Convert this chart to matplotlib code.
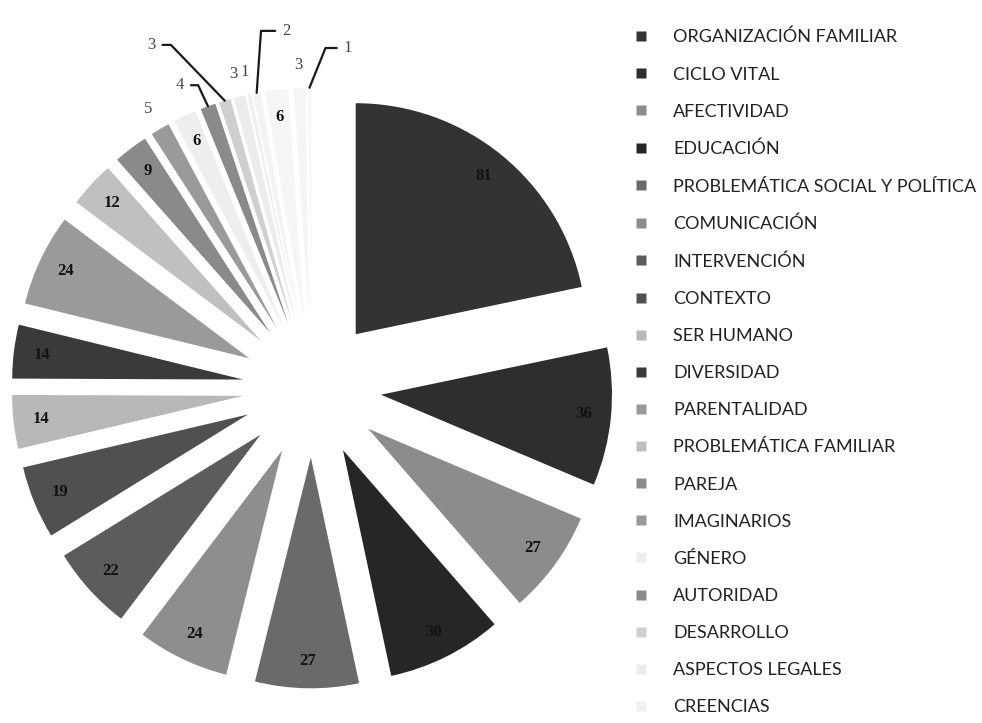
import matplotlib
matplotlib.use("Agg")
import matplotlib.pyplot as plt
from matplotlib.lines import Line2D
import numpy as np

# slices, clockwise from the top
values = [81, 36, 27, 30, 27, 24, 22, 19, 14, 14, 24, 12, 9, 5, 6, 4, 3, 3, 1, 2, 6, 3, 1]
categories = [
    "ORGANIZACIÓN FAMILIAR", "CICLO VITAL", "AFECTIVIDAD", "EDUCACIÓN",
    "PROBLEMÁTICA SOCIAL Y POLÍTICA", "COMUNICACIÓN", "INTERVENCIÓN", "CONTEXTO",
    "SER HUMANO", "DIVERSIDAD", "PARENTALIDAD", "PROBLEMÁTICA FAMILIAR", "PAREJA",
    "IMAGINARIOS", "GÉNERO", "AUTORIDAD", "DESARROLLO", "ASPECTOS LEGALES", "CREENCIAS",
]
colors = [
    "#333333", "#2e2e2e", "#8c8c8c", "#262626", "#6a6a6a", "#8e8e8e", "#5c5c5c",
    "#505050", "#b8b8b8", "#3a3a3a", "#9a9a9a", "#c0c0c0", "#8a8a8a", "#9a9a9a",
    "#eeeeee", "#8a8a8a", "#cfcfcf", "#ececec", "#f0f0f0", "#f3f3f3", "#f6f6f6",
    "#f5f5f5", "#f8f8f8",
]

# labels placed outside the pie (no leader line)
outside = [13, 17, 18, 21]
# labels with a leader: index -> (radius, angle shift in deg, leader angle)
leaders = {15: (1.43, 3.3, 115), 16: (1.64, 8.2, 134), 19: (1.55, -6.5, 86), 22: (1.48, -6.5, 68)}

R_PX = 231.0  # pie radius in pixels
CX, CY = 312.0, 388.0  # pie centre in pixels
W, H = 982, 723

fig = plt.figure(figsize=(W / 100, H / 100), dpi=100)
ax = fig.add_axes([0, 0, 1, 1])

wedges, _ = ax.pie(values, colors=colors, startangle=90, counterclock=False,
                   explode=[0.3] * len(values), radius=1,
                   wedgeprops=dict(linewidth=0))
ax.set_xlim(-CX / R_PX, (W - CX) / R_PX)
ax.set_ylim(-(H - CY) / R_PX, CY / R_PX)

for i, w in enumerate(wedges):
    mid = np.deg2rad((w.theta1 + w.theta2) / 2)
    cx, cy = w.center
    d = np.array([np.cos(mid), np.sin(mid)])
    val = str(values[i])
    if i in leaders:
        r, shift, angb = leaders[i]
        a = mid + np.deg2rad(shift)
        tip = (cx + d[0], cy + d[1])
        txt = (r * np.cos(a), r * np.sin(a))
        ax.annotate(val, xy=tip, xytext=txt, ha="center", va="center",
                    fontsize=12, family="Liberation Serif", color="#444444",
                    arrowprops=dict(arrowstyle="-", color="#1a1a1a", lw=1.6,
                                    shrinkA=3, shrinkB=0,
                                    connectionstyle=f"angle,angleA=0,angleB={angb},rad=0"))
    elif i in outside:
        ax.text(cx + 1.1 * d[0], cy + 1.1 * d[1], val, ha="center", va="center",
                fontsize=12, family="Liberation Serif", color="#444444")
    else:
        ax.text(cx + 0.88 * d[0], cy + 0.88 * d[1], val, ha="center", va="center",
                fontsize=12, family="Liberation Serif", fontweight="bold", color="#111111")

handles = [Line2D([], [], linestyle="none", marker="s", markersize=6.5,
                  markerfacecolor=colors[i], markeredgecolor="none")
           for i in range(len(categories))]
fig.legend(handles, categories, loc="upper left", bbox_to_anchor=(636 / W, 1 - 29 / H),
           frameon=False, prop={"family": "Lato", "size": 13}, labelspacing=1.17,
           handlelength=0.6, handletextpad=1.45, borderpad=0, borderaxespad=0,
           labelcolor="#222222")

fig.savefig("out.png", dpi=100)
